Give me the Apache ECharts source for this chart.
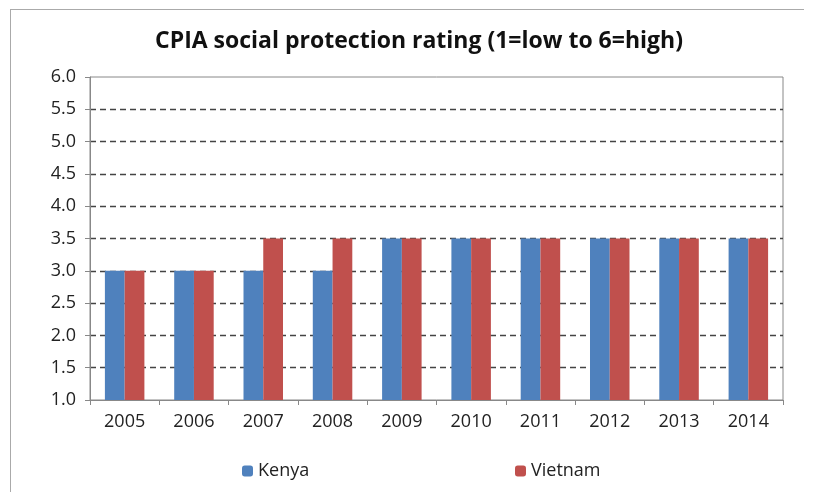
<!DOCTYPE html>
<html>
<head>
<meta charset="utf-8">
<script src="https://cdn.jsdelivr.net/npm/echarts@6/dist/echarts.min.js"></script>
<style>
html,body{margin:0;padding:0;background:#fff;}
#chart{width:814px;height:492px;}
</style>
</head>
<body>
<div id="chart"></div>
<script>
var years = ['2005','2006','2007','2008','2009','2010','2011','2012','2013','2014'];
var kenya = [3.0,3.0,3.0,3.0,3.5,3.5,3.5,3.5,3.5,3.5];
var vietnam = [3.0,3.0,3.5,3.5,3.5,3.5,3.5,3.5,3.5,3.5];
var titleText = 'CPIA social protection rating (1=low to 6=high)';

var FONT = 'Open Sans';
var chart = echarts.init(document.getElementById('chart'));
var gridColors = ['transparent','#444','#444','#444','#444','#444','#444','#444','#444','#444','transparent'];
chart.setOption({
  animation: false,
  backgroundColor: '#fff',
  title: {
    text: titleText,
    left: 414, top: 25, textAlign: 'center',
    textStyle: {fontFamily: FONT, fontSize: 23, fontWeight: 'bold', color: '#111'}
  },
  graphic: [
    {type:'line', shape:{x1:10,y1:9.5,x2:804,y2:9.5}, style:{stroke:'#aaa', lineWidth:1}},
    {type:'line', shape:{x1:10.5,y1:9,x2:10.5,y2:492}, style:{stroke:'#aaa', lineWidth:1}}
  ],
  legend: [
    {data:['Kenya'], left: 237, top: 457, itemWidth: 11, itemHeight: 11, itemGap: 6,
     textStyle:{fontFamily:FONT, fontSize:18, color:'#222'}},
    {data:['Vietnam'], left: 510, top: 457, itemWidth: 11, itemHeight: 11, itemGap: 6,
     textStyle:{fontFamily:FONT, fontSize:18, color:'#222'}}
  ],
  grid: {left: 90, right: 31, top: 77, bottom: 92, show: true, borderColor: '#888', borderWidth: 1},
  xAxis: {
    type: 'category', data: years,
    axisLine: {lineStyle:{color:'#888'}},
    axisTick: {show:true, length:5, lineStyle:{color:'#888'}},
    axisLabel: {fontFamily:FONT, fontSize:18, color:'#222', margin:13}
  },
  yAxis: {
    type: 'value', min: 1, max: 6, interval: 0.5,
    axisLine: {show:true, lineStyle:{color:'#888'}},
    axisTick: {show:true, length:5, lineStyle:{color:'#888'}},
    axisLabel: {fontFamily:FONT, fontSize:18, color:'#222', margin:14,
      formatter: function(v){return v.toFixed(1);}},
    splitLine: {show:true, lineStyle:{color:gridColors, type:[6,4], width:1.3}}
  },
  series: [
    {name:'Kenya', type:'bar', data:kenya, barGap:'0%', barCategoryGap:'43%',
     itemStyle:{color:'#4F81BD'}},
    {name:'Vietnam', type:'bar', data:vietnam, barGap:'0%', barCategoryGap:'43%',
     itemStyle:{color:'#C0504D'}}
  ]
});
</script>
</body>
</html>
